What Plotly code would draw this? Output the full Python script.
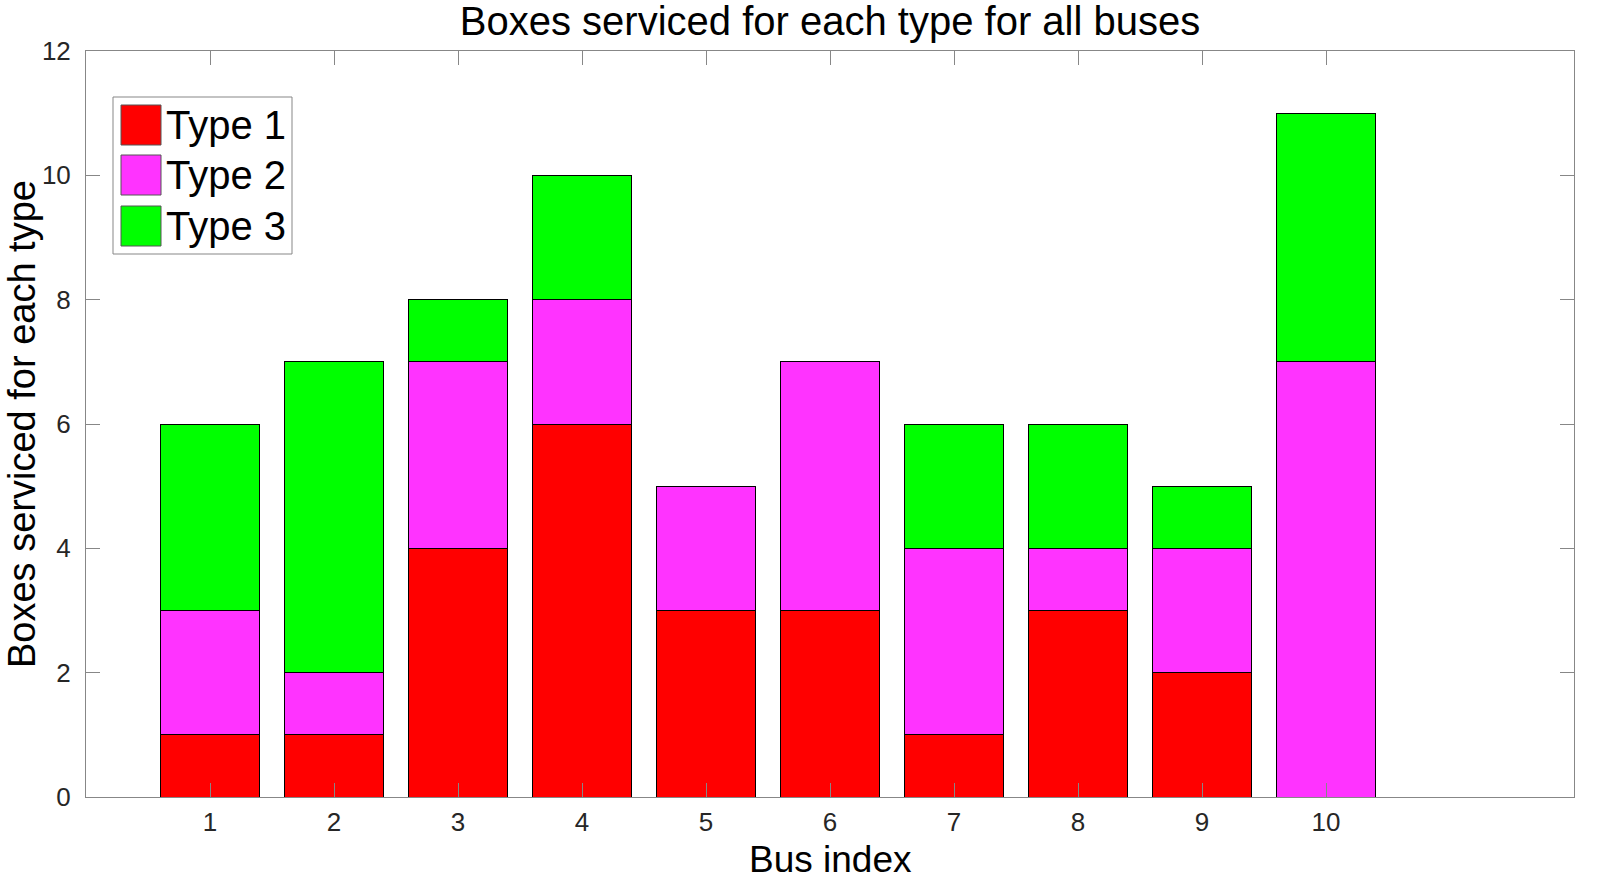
import plotly.graph_objects as go

buses = [1, 2, 3, 4, 5, 6, 7, 8, 9, 10]
type1 = [1, 1, 4, 6, 3, 3, 1, 3, 2, 0]
type2 = [2, 1, 3, 2, 2, 4, 3, 1, 2, 7]
type3 = [3, 5, 1, 2, 0, 0, 2, 2, 1, 4]
series_names = ["Type 1", "Type 2", "Type 3"]
series_colors = ["#FF0000", "#FF33FF", "#00FF00"]
x_ticks = [1, 2, 3, 4, 5, 6, 7, 8, 9, 10]
y_ticks = [0, 2, 4, 6, 8, 10, 12]

W, H = 1602, 880
ML, MR, MT, MB = 86, 28, 51, 83
PW, PH = W - ML - MR, H - MT - MB

def px(x):
    return (x - ML) / PW

def py(y):
    return (H - MB - y) / PH

fig = go.Figure()
for name, vals, col in zip(series_names, [type1, type2, type3], series_colors):
    fig.add_trace(go.Bar(
        x=buses, y=vals, name=name, width=0.8,
        marker=dict(color=col, line=dict(color="black", width=1)),
        showlegend=False,
    ))

axis_common = dict(
    showline=True, linecolor="#878787", linewidth=1, mirror="ticks",
    ticks="inside", ticklen=14, tickcolor="#878787", tickwidth=1,
    showgrid=False, zeroline=False,
    tickfont=dict(family="Liberation Sans, Arial", size=26, color="#262626"),
)

fig.update_layout(
    width=W, height=H,
    margin=dict(l=ML, r=MR, t=MT, b=MB, autoexpand=False),
    barmode="stack",
    plot_bgcolor="white", paper_bgcolor="white",
    font=dict(family="Liberation Sans, Arial", color="black"),
    xaxis=dict(range=[0, 12], tickvals=x_ticks, ticktext=[str(v) for v in x_ticks],
               ticklabelstandoff=2, **axis_common),
    yaxis=dict(range=[0, 12], tickvals=y_ticks, ticktext=[str(v) for v in y_ticks],
               ticklabelstandoff=9, **axis_common),
    title=dict(text="Boxes serviced for each type for all buses",
               x=0.5, xref="paper", xanchor="center",
               y=1 - 21 / H, yref="container", yanchor="middle",
               font=dict(size=40, color="black", family="Liberation Sans, Arial")),
    showlegend=False,
)

fig.add_annotation(text="Bus index", xref="paper", yref="paper",
                   x=0.5, y=py(859), xanchor="center", yanchor="middle",
                   showarrow=False, font=dict(size=37, color="black"))
fig.add_annotation(text="Boxes serviced for each type", xref="paper", yref="paper",
                   x=px(22), y=0.5, xanchor="center", yanchor="middle", textangle=-90,
                   showarrow=False, font=dict(size=38, color="black"))

# Legend box drawn manually (MATLAB-style large swatches)
fig.add_shape(type="rect", xref="paper", yref="paper",
              x0=px(113), x1=px(292), y0=py(254), y1=py(97),
              line=dict(color="#878787", width=1), fillcolor="white", layer="above")
row_centers = [125, 175, 226]
for name, col, yc in zip(series_names, series_colors, row_centers):
    fig.add_shape(type="rect", xref="paper", yref="paper",
                  x0=px(121), x1=px(161), y0=py(yc + 20), y1=py(yc - 20),
                  line=dict(color="#555555", width=1), fillcolor=col, layer="above")
    fig.add_annotation(text=name, xref="paper", yref="paper",
                       x=px(164), y=py(yc), xanchor="left", yanchor="middle",
                       showarrow=False, font=dict(size=40, color="black"))

fig.write_html("out.html", config={"displayModeBar": False},
               post_script="document.body.style.margin='0';document.body.style.overflow='hidden';")
